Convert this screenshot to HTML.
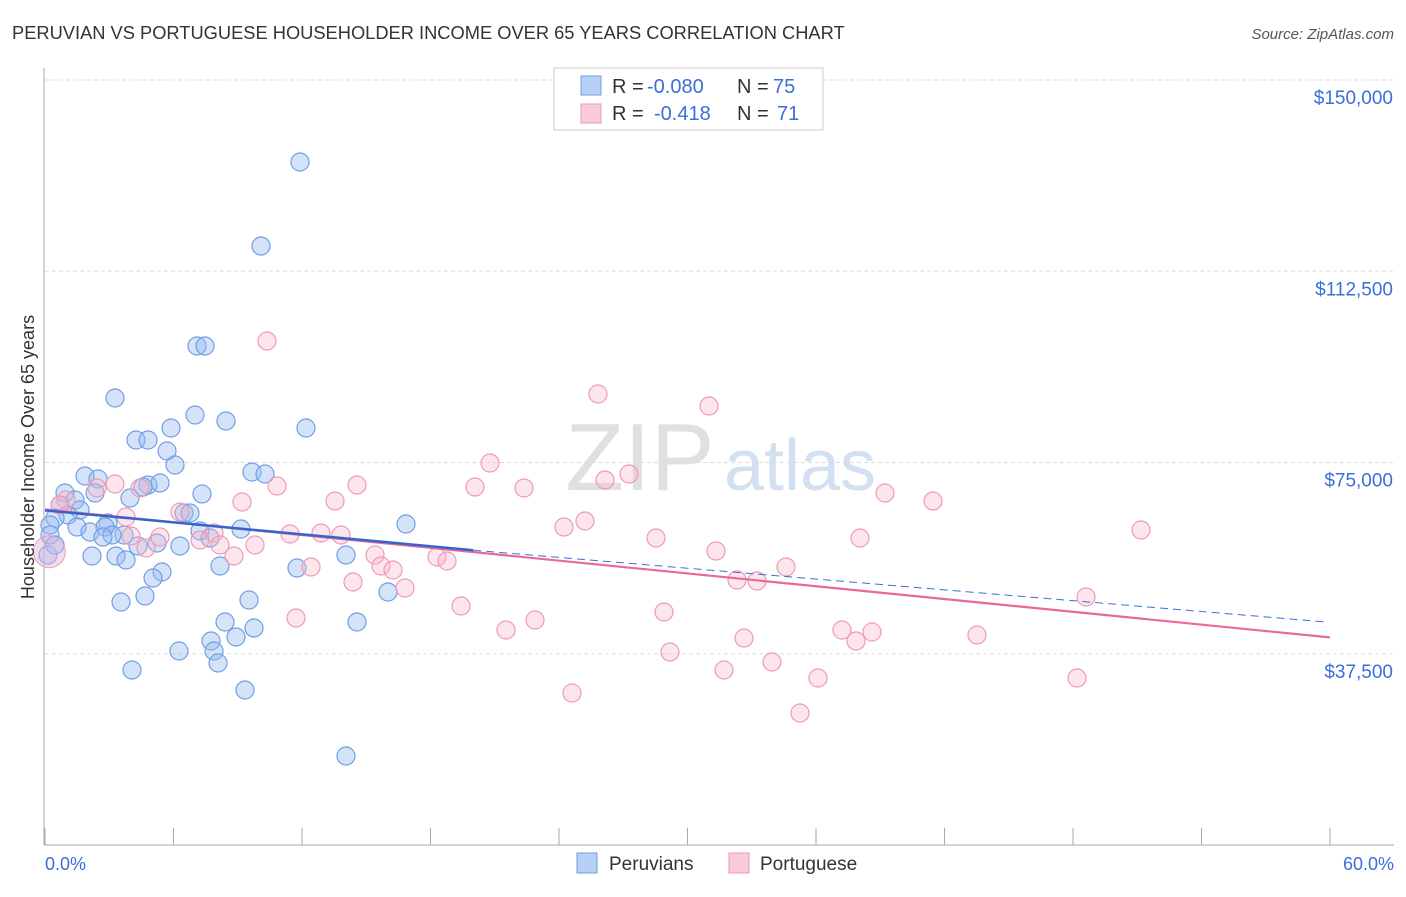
<!DOCTYPE html>
<html><head><meta charset="utf-8"><style>
body{margin:0;background:#fff;font-family:"Liberation Sans",sans-serif;}
svg text{font-family:"Liberation Sans",sans-serif;}
</style></head><body>
<svg id="chart" width="1406" height="892">
<text x="12" y="39" font-size="18.3" fill="#333">PERUVIAN VS PORTUGUESE HOUSEHOLDER INCOME OVER 65 YEARS CORRELATION CHART</text>
<text x="1394" y="39" font-size="15" fill="#555" font-style="italic" text-anchor="end">Source: ZipAtlas.com</text>
<text x="640" y="490" font-size="96" fill="#e0e0e0" font-family="Liberation Serif" text-anchor="middle">ZIP</text>
<text x="800" y="490" font-size="72" fill="#d2e0f2" text-anchor="middle">atlas</text>
<g id="grid"></g><g id="axes"></g><g id="pts"></g><g id="trend"></g>
<text transform="translate(34,457) rotate(-90)" font-size="18" fill="#333" text-anchor="middle">Householder Income Over 65 years</text>
<text x="45" y="870" font-size="18" fill="#3a6fd8">0.0%</text>
<text x="1394" y="870" font-size="18" fill="#3a6fd8" text-anchor="end">60.0%</text>
<g>
<rect x="554" y="68" width="269" height="62" fill="#fff" stroke="#ccc"/>
<rect x="581" y="76" width="20" height="19" fill="#b8d0f4" stroke="#6f9ee6"/>
<rect x="581" y="104" width="20" height="19" fill="#fbcad8" stroke="#ee9ab4"/>
<text y="93" font-size="20" fill="#333"><tspan x="612">R =</tspan><tspan x="647" fill="#3a6fd8">-0.080</tspan><tspan x="737">N =</tspan><tspan x="773" fill="#3a6fd8">75</tspan></text>
<text y="120" font-size="20" fill="#333"><tspan x="612">R =</tspan><tspan x="654" fill="#3a6fd8">-0.418</tspan><tspan x="737">N =</tspan><tspan x="777" fill="#3a6fd8">71</tspan></text>
</g>
<g>
<rect x="577" y="853" width="20" height="20" fill="#b8d0f4" stroke="#6f9ee6"/>
<text x="609" y="870" font-size="19" fill="#333">Peruvians</text>
<rect x="729" y="853" width="20" height="20" fill="#fbcad8" stroke="#ee9ab4"/>
<text x="760" y="870" font-size="19" fill="#333">Portuguese</text>
</g>
</svg>
<script>
const yTicks=[37500,75000,112500,150000];
const yTickLabels=["$37,500","$75,000","$112,500","$150,000"];
const xTicks=[0,6,12,18,24,30,36,42,48,54,60];
const bluePx=[[300,162],[261,246],[197,346],[205,346],[115,398],[195,415],[226,421],[171,428],[306,428],[136,440],[148,440],[167,451],[175,465],[85,476],[98,479],[252,472],[265,474],[148,485],[160,483],[143,487],[65,493],[95,493],[130,498],[202,494],[75,500],[60,505],[80,510],[68,515],[184,513],[190,513],[55,518],[50,525],[108,523],[105,527],[77,527],[241,529],[406,524],[90,532],[124,535],[112,535],[200,531],[210,538],[103,537],[157,543],[180,546],[138,546],[92,556],[116,556],[126,560],[346,555],[220,566],[297,568],[162,572],[153,578],[388,592],[145,596],[249,600],[121,602],[225,622],[357,622],[254,628],[236,637],[211,641],[214,651],[179,651],[218,663],[132,670],[245,690],[346,756],[50,535],[48,555],[55,545]];
const pinkPx=[[267,341],[598,394],[709,406],[490,463],[629,474],[605,480],[357,485],[277,486],[475,487],[524,488],[885,493],[933,501],[335,501],[242,502],[97,488],[115,484],[140,488],[66,500],[60,505],[180,512],[126,517],[585,521],[564,527],[1141,530],[290,534],[321,533],[341,535],[214,533],[160,537],[131,536],[656,538],[860,538],[200,540],[146,548],[255,545],[220,545],[716,551],[375,555],[437,557],[447,561],[234,556],[381,566],[393,570],[311,567],[786,567],[353,582],[405,588],[737,580],[757,581],[461,606],[664,612],[1086,597],[296,618],[535,620],[506,630],[842,630],[872,632],[856,641],[977,635],[744,638],[670,652],[772,662],[724,670],[818,678],[1077,678],[572,693],[800,713]];
const X0=45,X1=1330,Y0=845,YT=80;
const xs=p=>X0+p/60*(X1-X0);
const ys=v=>Y0-v/150000*(Y0-YT);
const px2x=x=>(x-X0)/(X1-X0)*60, px2y=y=>(Y0-y)/(Y0-YT)*150000;
const blueX=bluePx.map(p=>px2x(p[0])), blueY=bluePx.map(p=>px2y(p[1]));
const pinkX=pinkPx.map(p=>px2x(p[0])), pinkY=pinkPx.map(p=>px2y(p[1]));
const blueTrend=[65600,57800,43700];
const pinkTrend=[65800,40700];
const NS='http://www.w3.org/2000/svg';
function mk(tag,attrs,parent){const e=document.createElementNS(NS,tag);for(const k in attrs)e.setAttribute(k,attrs[k]);document.getElementById(parent).appendChild(e);return e;}
yTicks.forEach((v,i)=>{
 const l=mk('line',{x1:45,x2:1394,y1:ys(v),y2:ys(v),stroke:'#ddd','stroke-dasharray':'4,3'},'grid');
 
 
 const t=mk('text',{x:1393,y:ys(v)+24,'font-size':19,fill:'#3a6fd8','text-anchor':'end'},'grid');
 t.textContent=yTickLabels[i];
 
 
});
const ax=mk('line',{x1:44,x2:44,y1:68,y2:845,stroke:'#aaa'},'axes');


const bx=mk('line',{x1:44,x2:1394,y1:845,y2:845,stroke:'#aaa'},'axes');


xTicks.forEach(p=>{
 const t=mk('line',{x1:xs(p),x2:xs(p),y1:828,y2:845,stroke:'#aaa'},'axes');
 
 
});
blueX.forEach((x,i)=>{
 const c=mk('circle',{cx:xs(x),cy:ys(blueY[i]),r:9,fill:'rgba(150,185,240,0.4)',stroke:'#6f9ee6','stroke-width':1.2},'pts');
 
 
});
pinkX.forEach((x,i)=>{
 const c=mk('circle',{cx:xs(x),cy:ys(pinkY[i]),r:9,fill:'rgba(248,180,200,0.35)',stroke:'#ee9ab4','stroke-width':1.2},'pts');
 
 
});
const big=mk('circle',{cx:xs(0.2),cy:ys(57500),r:16,fill:'rgba(220,180,220,0.45)',stroke:'#ee9ab4'},'pts');


const bd=mk('line',{x1:xs(20),y1:ys(blueTrend[1]),x2:xs(59.9),y2:ys(blueTrend[2]),stroke:'#3a6fd8','stroke-width':1,'stroke-dasharray':'8,5'},'trend');


const pt=mk('line',{x1:xs(0),y1:ys(pinkTrend[0]),x2:xs(60),y2:ys(pinkTrend[1]),stroke:'#e8689a','stroke-width':2.2},'trend');


const bt=mk('line',{x1:xs(0),y1:ys(blueTrend[0]),x2:xs(20),y2:ys(blueTrend[1]),stroke:'#3366cc','stroke-width':2.5},'trend');


</script>
</body></html>
